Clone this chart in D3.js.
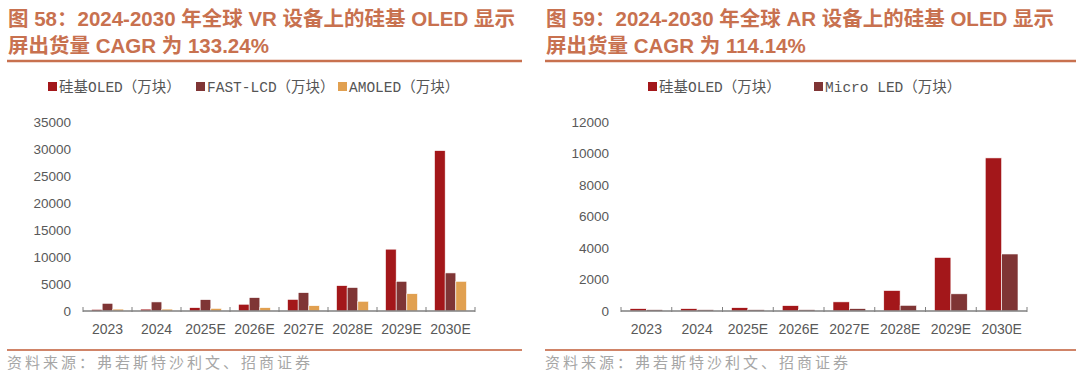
<!DOCTYPE html>
<meta charset="utf-8">
<html>
<head>
  <title>VR / AR 硅基OLED出货量</title>
  <style>
    body { margin: 0; background: #fff; }
    svg { display: block; }
    .title { font-family: "Liberation Sans", "Noto Sans CJK SC", sans-serif; font-weight: bold; font-size: 20.5px; fill: #C8714F; }
    .legend text { font-family: "Liberation Mono", "Noto Sans CJK SC", monospace; font-size: 14.5px; fill: #555; }
    .tick text { font-family: "Liberation Sans", Arial, sans-serif; font-size: 13.5px; fill: #595959; }
    .source { font-family: "Noto Sans CJK SC", sans-serif; font-size: 15px; fill: #a6a6a6; letter-spacing: 3px; }
  </style>
</head>
<body>
<svg id="chart" width="1080" height="387"></svg>

<script src="https://d3js.org/d3.v7.min.js"></script>
<script>

// --- data ---
const years = ["2023", "2024", "2025E", "2026E", "2027E", "2028E", "2029E", "2030E"];

// 图58 VR（万块）
const vrSiOled  = [300, 350, 620, 1250, 2150, 4700, 11450, 29700];
const vrFastLcd = [1420, 1680, 2100, 2480, 3400, 4350, 5500, 7050];
const vrAmoled  = [350, 350, 480, 620, 980, 1800, 3200, 5500];
const vrTicks   = [0, 5000, 10000, 15000, 20000, 25000, 30000, 35000];

// 图59 AR（万块）
const arSiOled   = [150, 150, 210, 340, 580, 1300, 3400, 9720];
const arMicroLed = [85, 85, 85, 85, 150, 360, 1090, 3620];
const arTicks    = [0, 2000, 4000, 6000, 8000, 10000, 12000];

const colors = { si: "#A3171A", fast: "#7F3535", amoled: "#E1A050", micro: "#7F3535" };

const svg = d3.select("#chart");

function panel(opt) {
  const g = svg.append("g");

  // title
  const t = g.append("text").attr("class", "title");
  opt.title.forEach((line, i) => {
    t.append("tspan").attr("x", opt.left).attr("y", 26 + i * 27).text(line);
  });
  g.append("line")
    .attr("x1", opt.left - 1).attr("x2", opt.right)
    .attr("y1", 61).attr("y2", 61)
    .attr("stroke", "#C8714F").attr("stroke-width", 2.5);

  // legend
  const lg = g.append("g").attr("class", "legend");
  opt.series.forEach((s, i) => {
    const x = opt.legendX[i];
    lg.append("rect").attr("x", x).attr("y", 82).attr("width", 9).attr("height", 9).attr("fill", s.color);
    lg.append("text").attr("x", x + 11).attr("y", 91.5).text(s.name);
  });

  // scales
  const x = d3.scaleBand().domain(years).range(opt.xRange);
  const y = d3.scaleLinear().domain([0, opt.yMax]).range([311, 122]);
  const inner = d3.scaleBand()
    .domain(opt.series.map((s, i) => i))
    .range([0, x.bandwidth()])
    .paddingOuter(opt.outerPad);

  // y axis (labels only)
  const ya = g.append("g")
    .attr("transform", `translate(${opt.xRange[0] - 12},0)`)
    .call(d3.axisLeft(y).tickValues(opt.ticks).tickFormat(d3.format("d")).tickSize(0).tickPadding(0));
  ya.select(".domain").remove();

  // bars
  opt.series.forEach((s, i) => {
    g.append("g").selectAll("rect")
      .data(s.values)
      .join("rect")
      .attr("x", (d, j) => x(years[j]) + inner(i))
      .attr("width", inner.bandwidth())
      .attr("y", d => y(d))
      .attr("height", d => y(0) - y(d))
      .attr("fill", s.color)
      .attr("stroke", "#fff")
      .attr("stroke-width", 0.6);
  });

  // x axis
  const xa = g.append("g").attr("transform", "translate(0,311)");
  xa.append("line")
    .attr("x1", opt.xRange[0]).attr("x2", opt.xRange[1])
    .attr("stroke", "#7f7f7f").attr("stroke-width", 1.3);
  const edges = years.map(d => x(d)).concat([opt.xRange[1]]);
  xa.selectAll(".edge")
    .data(edges)
    .join("line")
    .attr("x1", d => d).attr("x2", d => d)
    .attr("y1", -4).attr("y2", 1)
    .attr("stroke", "#7f7f7f").attr("stroke-width", 1);
  xa.selectAll("text.lbl")
    .data(years)
    .join("text")
    .attr("class", "lbl")
    .attr("x", d => x(d) + x.bandwidth() / 2)
    .attr("y", 23)
    .attr("text-anchor", "middle")
    .attr("font-family", "Liberation Sans, Arial, sans-serif")
    .attr("font-size", "14px")
    .attr("fill", "#595959")
    .text(d => d);

  // bottom rule + source
  g.append("line")
    .attr("x1", opt.left - 1).attr("x2", opt.right)
    .attr("y1", 350).attr("y2", 350)
    .attr("stroke", "#D08468").attr("stroke-width", 2);
  g.append("text").attr("class", "source")
    .attr("x", opt.left - 1).attr("y", 368)
    .text("资料来源：弗若斯特沙利文、招商证券");
}

panel({
  left: 8, right: 522,
  title: ["图 58：2024-2030 年全球 VR 设备上的硅基 OLED 显示", "屏出货量 CAGR 为 133.24%"],
  legendX: [48, 196, 338],
  series: [
    { name: "硅基OLED（万块）", values: vrSiOled, color: colors.si },
    { name: "FAST-LCD（万块）", values: vrFastLcd, color: colors.fast },
    { name: "AMOLED（万块）", values: vrAmoled, color: colors.amoled }
  ],
  xRange: [83, 475], yMax: 35000, ticks: vrTicks, outerPad: 0.8
});

panel({
  left: 546, right: 1076,
  title: ["图 59：2024-2030 年全球 AR 设备上的硅基 OLED 显示", "屏出货量 CAGR 为 114.14%"],
  legendX: [648, 814],
  series: [
    { name: "硅基OLED（万块）", values: arSiOled, color: colors.si },
    { name: "Micro LED（万块）", values: arMicroLed, color: colors.micro }
  ],
  xRange: [621, 1027], yMax: 12000, ticks: arTicks, outerPad: 0.55
});

</script>
</body>
</html>
